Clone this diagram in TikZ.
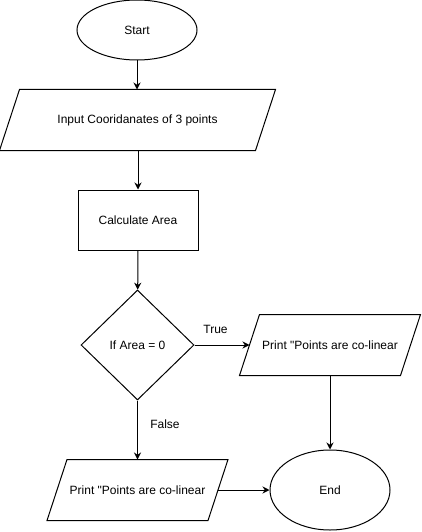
\documentclass[tikz,border=0pt]{standalone}
\usepackage{fontspec}
\setmainfont{Liberation Sans}
\usetikzlibrary{shapes.geometric,arrows.meta}
\begin{document}
\begin{tikzpicture}[x=1pt,y=-1pt,line width=1pt,
    font=\fontsize{12}{14}\selectfont,
    terminal/.style = {draw, ellipse, inner sep=0pt},
    process/.style = {draw, rectangle, minimum width=120, minimum height=60, inner sep=0pt},
    io/.style = {rectangle, minimum width=#1, minimum height=60, inner sep=0pt},
    decision/.style = {draw, diamond, minimum width=113, minimum height=110, inner sep=0pt},
    flow/.style = {-{Stealth[length=7pt,width=7pt]}}]
      \useasboundingbox (0,0) rectangle (422,532);
      %Start
      \node[terminal, minimum width=120, minimum height=60] (start) at (137,30) {Start};
      %Input
      \node[io=255] (input) at (137.5,120) {Input Cooridanates of 3 points};
      %Area
      \node[process] (area) at (138,220) {Calculate Area};
      %Decision
      \node[decision] (test) at (137.5,345) {If Area = 0};
      %Outputs
      \node[io=160] (yes) at (330,345) {Print \textquotedbl Points are co-linear};
      \node[io=160] (no) at (137.5,490) {Print \textquotedbl Points are co-linear};
      %End
      \node[terminal, minimum width=120, minimum height=80] (stop) at (330,490) {End};
      %Parallelograms
      \foreach \p in {input,yes,no}
        \draw ([xshift=10pt]\p.north west) -- ([xshift=10pt]\p.north east)
          -- ([xshift=-10pt]\p.south east) -- ([xshift=-10pt]\p.south west) -- cycle;

      \draw[flow] (start) -- (start |- input.north);
      \draw[flow] (input.south -| area) -- (area);
      \draw[flow] (area) -- (test);
      \draw[flow] (test) -- (yes);
      \node (t) at (215.5,329) {True};
      \draw[flow] (test) -- (no);
      \node (f) at (165,424) {False};
      \draw[flow] (yes) -- (stop);
      \draw[flow] (no) -- (stop);
\end{tikzpicture}
\end{document}
